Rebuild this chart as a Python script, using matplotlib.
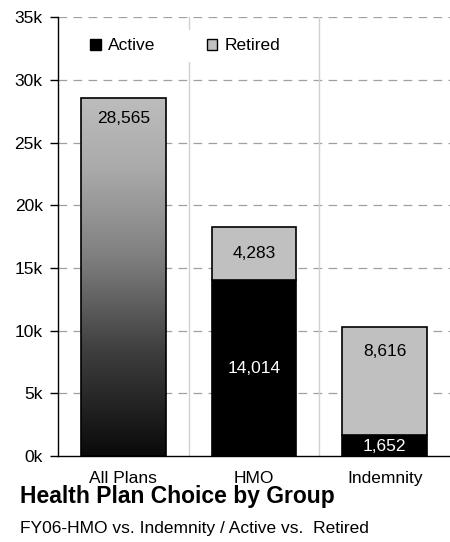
import numpy as np
import matplotlib
matplotlib.use("Agg")
import matplotlib.pyplot as plt
from matplotlib.patches import Patch

plt.rcParams['font.family'] = ['Liberation Sans', 'DejaVu Sans']

categories = ["All Plans", "HMO", "Indemnity"]
total_all = 28565
active = [0, 14014, 1652]
retired = [0, 4283, 8616]
y_ticks = [0, 5000, 10000, 15000, 20000, 25000, 30000, 35000]
y_tick_labels = ["0k", "5k", "10k", "15k", "20k", "25k", "30k", "35k"]

fig = plt.figure(figsize=(4.5, 5.42), dpi=100)
ax = fig.add_axes([58 / 450, 1 - 456 / 542, 392 / 450, 438.7 / 542])

x = np.arange(len(categories))
width = 0.65

# grid: dashed horizontals, solid category separators
for t in y_ticks[1:]:
    ax.axhline(t, color="#a0a0a0", lw=0.9, ls=(0, (7, 5)), zorder=0)
for sep in [0.5, 1.5]:
    ax.axvline(sep, color="#d0d0d0", lw=1.0, zorder=0)

# All Plans bar with vertical gradient
bar_all = ax.bar(x[0], total_all, width, color="none", edgecolor="black", lw=1.2, zorder=3)[0]
grad = np.linspace(0, 1, 256).reshape(-1, 1)
cmap = matplotlib.colors.LinearSegmentedColormap.from_list(
    "g", [(0.0, "#0a0a0a"), (0.3, "#404040"), (0.55, "#7e7e7e"),
          (0.8, "#aaaaaa"), (1.0, "#bdbdbd")])
im = ax.imshow(grad, cmap=cmap, origin="lower", aspect="auto",
               extent=[x[0] - width / 2, x[0] + width / 2, 0, total_all], zorder=2)
im.set_clip_path(bar_all)
ax.set_xlim(-0.5, 2.5)
ax.set_ylim(0, 35000)

# stacked bars
ax.bar(x[1:], active[1:], width, color="black", edgecolor="black", lw=1.2, zorder=3)
ax.bar(x[1:], retired[1:], width, bottom=active[1:], color="#c0c0c0",
       edgecolor="black", lw=1.2, zorder=3)

fs = 12.5
ax.text(x[0], total_all - 1600, f"{total_all:,}", ha="center", va="center", fontsize=fs, zorder=4)
# HMO: both labels centred in their segments
ax.text(x[1], active[1] / 2, f"{active[1]:,}", ha="center", va="center",
        color="white", fontsize=fs, zorder=4)
ax.text(x[1], active[1] + retired[1] / 2, f"{retired[1]:,}", ha="center", va="center",
        fontsize=fs, zorder=4)
# Indemnity: retired label near segment top
ax.text(x[2], active[2] / 2 - 100, f"{active[2]:,}", ha="center", va="center",
        color="white", fontsize=fs, zorder=4)
ax.text(x[2], active[2] + retired[2] - 1950, f"{retired[2]:,}", ha="center", va="center",
        fontsize=fs, zorder=4)

ax.set_yticks(y_ticks)
ax.set_yticklabels(y_tick_labels, fontsize=fs)
ax.set_xticks(x)
ax.set_xticklabels(categories, fontsize=fs)
ax.tick_params(axis="y", length=6, width=1, direction="out", pad=5)
ax.tick_params(axis="x", length=0, pad=11)
for s in ["top", "right"]:
    ax.spines[s].set_visible(False)
ax.spines["left"].set_linewidth(1.0)
ax.spines["bottom"].set_linewidth(1.0)

handles = [Patch(facecolor="black", edgecolor="black", label="Active"),
           Patch(facecolor="#c0c0c0", edgecolor="black", label="Retired")]
leg = ax.legend(handles=handles, ncol=2, loc="center left", bbox_to_anchor=(0.038, 0.935),
                frameon=True, fontsize=fs, handlelength=0.6, handleheight=0.6,
                handletextpad=0.4, columnspacing=3.0, borderpad=0.5)
leg.get_frame().set_edgecolor("none")
leg.get_frame().set_facecolor("white")
leg.get_frame().set_alpha(1)
leg.set_zorder(5)

fig.text(20 / 450, 1 - 497 / 542, "Health Plan Choice by Group", fontsize=16.5,
         fontweight="bold", va="center", ha="left")
fig.text(20 / 450, 1 - 528 / 542, "FY06-HMO vs. Indemnity / Active vs.  Retired",
         fontsize=12.5, va="center", ha="left")

fig.savefig("out.png", dpi=100)
